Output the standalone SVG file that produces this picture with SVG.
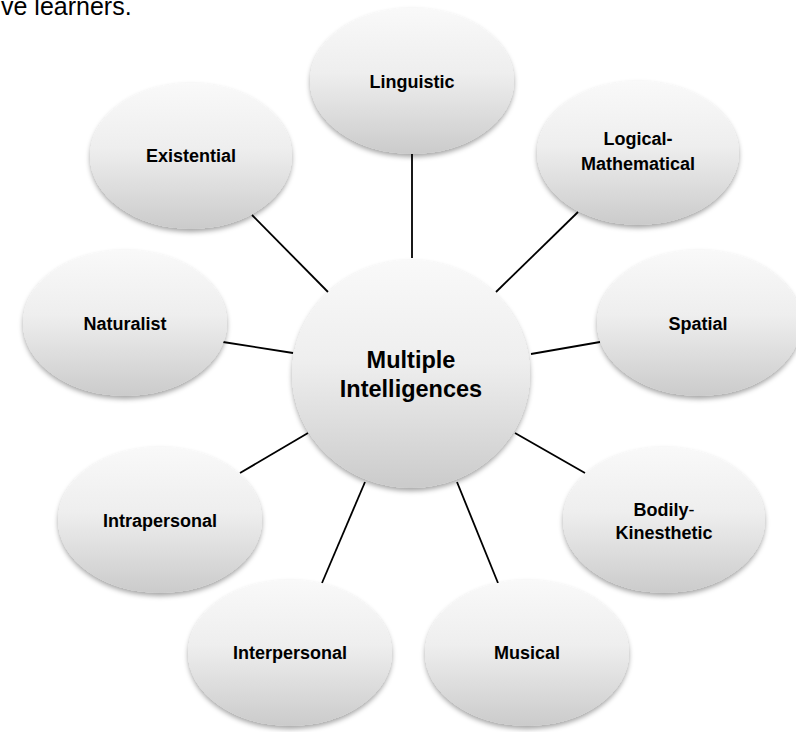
<svg xmlns="http://www.w3.org/2000/svg" width="796" height="732" viewBox="0 0 796 732">
  <defs>
    <linearGradient id="bubble" x1="0" y1="0" x2="0" y2="1">
      <stop offset="0" stop-color="#f9f9f9"/>
      <stop offset="0.45" stop-color="#eeeeee"/>
      <stop offset="1" stop-color="#cbcbcb"/>
    </linearGradient>
    <filter id="soft" x="-20%" y="-20%" width="140%" height="150%">
      <feDropShadow dx="0" dy="3" stdDeviation="2.5" flood-color="#000" flood-opacity="0.35"/>
    </filter>
  </defs>
  <style>
    .node ellipse { fill: url(#bubble); filter: url(#soft); }
    .label { font-family: "Liberation Sans", Arial, sans-serif; font-weight: bold; font-size: 18px; fill: #000; text-anchor: middle; }
    .hub { font-size: 23.5px; }
    .thin { font-weight: normal; }
    .links line { stroke: #000; stroke-width: 1.8; }
    .caption { font-family: "Liberation Sans", Arial, sans-serif; font-size: 25px; fill: #000; }
  </style>

  <rect width="796" height="732" fill="#ffffff"/>

  <!-- end of the preceding paragraph -->
  <text class="caption" x="1" y="15">ve learners.</text>

  <!-- spokes from the hub to each intelligence -->
  <g id="connectors" class="links">
    <line x1="412" y1="154" x2="412" y2="258"/>
    <line x1="578" y1="212" x2="496" y2="292"/>
    <line x1="600" y1="342" x2="531" y2="354"/>
    <line x1="585" y1="473" x2="515" y2="433"/>
    <line x1="498" y1="583" x2="457" y2="482"/>
    <line x1="322" y1="583" x2="365" y2="482"/>
    <line x1="240" y1="473" x2="308" y2="433"/>
    <line x1="223" y1="342" x2="293" y2="353"/>
    <line x1="252" y1="215" x2="328" y2="292"/>
  </g>

  <g id="hub" class="node">
    <ellipse cx="411" cy="374" rx="119" ry="114"/>
    <text class="label hub" x="411" y="368">Multiple</text>
    <text class="label hub" x="411" y="397">Intelligences</text>
  </g>

  <g id="linguistic" class="node">
    <ellipse cx="412" cy="81" rx="102" ry="73"/>
    <text class="label" x="412" y="88">Linguistic</text>
  </g>

  <g id="logical-mathematical" class="node">
    <ellipse cx="638" cy="153" rx="101" ry="72"/>
    <text class="label" x="638" y="145">Logical-</text>
    <text class="label" x="638" y="170">Mathematical</text>
  </g>

  <g id="spatial" class="node">
    <ellipse cx="699" cy="323" rx="102" ry="73"/>
    <text class="label" x="698" y="330">Spatial</text>
  </g>

  <g id="bodily-kinesthetic" class="node">
    <ellipse cx="664" cy="520" rx="101" ry="73"/>
    <text class="label" x="664" y="516">Bodily<tspan class="thin">-</tspan></text>
    <text class="label" x="664" y="539">Kinesthetic</text>
  </g>

  <g id="musical" class="node">
    <ellipse cx="527" cy="653" rx="102" ry="73"/>
    <text class="label" x="527" y="659">Musical</text>
  </g>

  <g id="interpersonal" class="node">
    <ellipse cx="290" cy="653" rx="102" ry="73"/>
    <text class="label" x="290" y="659">Interpersonal</text>
  </g>

  <g id="intrapersonal" class="node">
    <ellipse cx="160" cy="520" rx="102" ry="73"/>
    <text class="label" x="160" y="527">Intrapersonal</text>
  </g>

  <g id="naturalist" class="node">
    <ellipse cx="125" cy="323" rx="102" ry="73"/>
    <text class="label" x="125" y="330">Naturalist</text>
  </g>

  <g id="existential" class="node">
    <ellipse cx="191" cy="156" rx="101" ry="73"/>
    <text class="label" x="191" y="162">Existential</text>
  </g>
</svg>
